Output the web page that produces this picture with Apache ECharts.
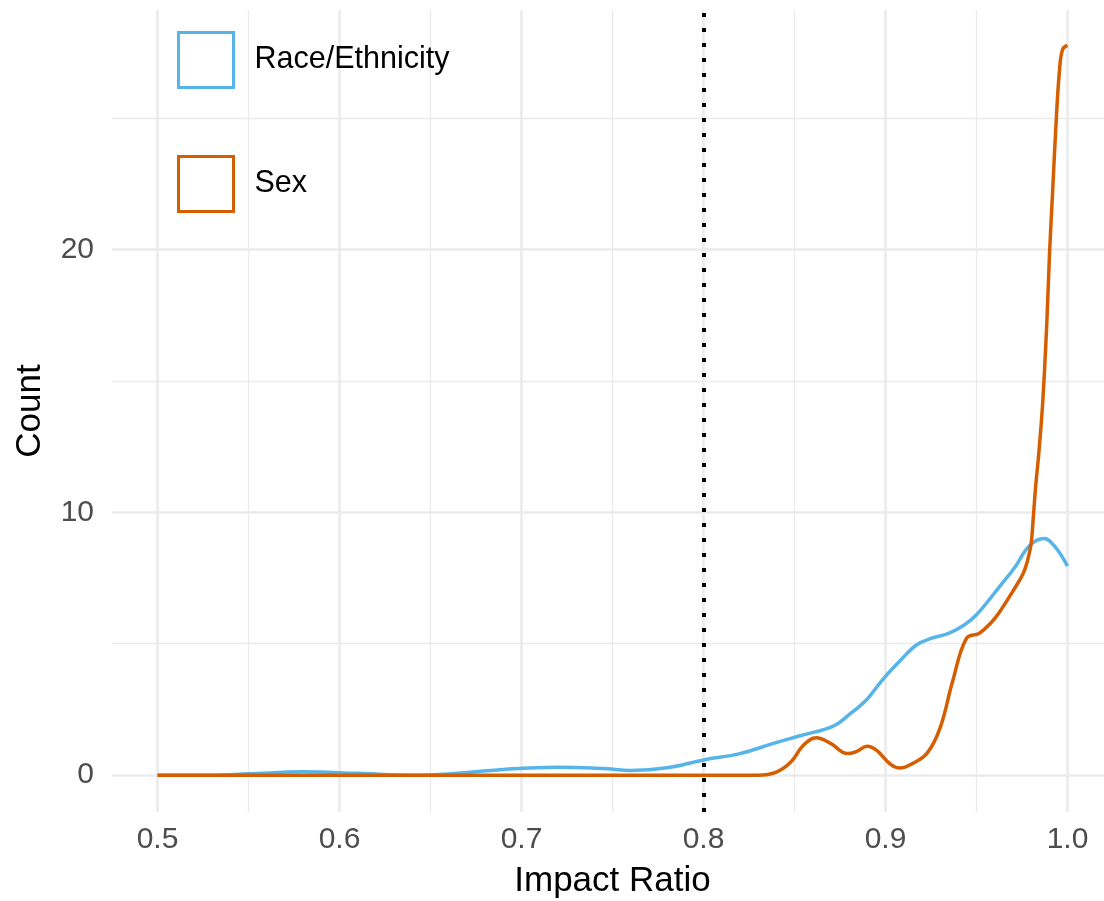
<!DOCTYPE html>
<html>
<head>
<meta charset="utf-8">
<script src="https://cdn.jsdelivr.net/npm/echarts@6/dist/echarts.min.js"></script>
<style>
  html, body { margin: 0; padding: 0; background: #ffffff; }
  #chart { width: 1104px; height: 901px; }
</style>
</head>
<body>
<div id="chart"></div>
<script>
// ---- data ----
const seriesNames = ['Race/Ethnicity', 'Sex'];

const raceX = [0.50, 0.53, 0.55, 0.58, 0.61, 0.64, 0.66, 0.69, 0.72, 0.745, 0.76, 0.78, 0.80, 0.82, 0.838, 0.853, 0.871, 0.880, 0.890, 0.898, 0.908, 0.917, 0.925, 0.935, 0.943, 0.950, 0.963, 0.971, 0.979, 0.987, 0.993, 1.0];
const raceY = [0.0, 0.0, 0.05, 0.13, 0.07, 0.0, 0.05, 0.22, 0.30, 0.25, 0.18, 0.28, 0.58, 0.82, 1.2, 1.5, 1.86, 2.3, 2.9, 3.6, 4.35, 4.95, 5.2, 5.4, 5.7, 6.1, 7.2, 7.9, 8.72, 9.0, 8.7, 7.95];

const sexX = [0.50, 0.60, 0.70, 0.80, 0.83, 0.84, 0.848, 0.855, 0.862, 0.870, 0.879, 0.884, 0.890, 0.895, 0.903, 0.908, 0.915, 0.923, 0.930, 0.937, 0.9445, 0.9516, 0.958, 0.9626, 0.970, 0.9755, 0.978, 0.980, 0.981, 0.9824, 0.9843, 0.9864, 0.9887, 0.9901, 0.9919, 0.9938, 0.9956, 0.9973, 1.0];
const sexY = [0.0, 0.0, 0.0, 0.0, 0.0, 0.12, 0.5, 1.15, 1.42, 1.2, 0.82, 0.9, 1.1, 0.95, 0.4, 0.27, 0.45, 0.85, 1.8, 3.6, 5.2, 5.4, 5.8, 6.2, 7.0, 7.65, 8.15, 8.8, 9.6, 10.9, 12.3, 14.2, 17.3, 19.8, 22.3, 24.9, 26.8, 27.6, 27.75];

const cutoff = [0.8];

const xMajorTicks = [0.5, 0.6, 0.7, 0.8, 0.9, 1.0];
const xTickLabels = ['0.5', '0.6', '0.7', '0.8', '0.9', '1.0'];
const xMinorTicks = [0.55, 0.65, 0.75, 0.85, 0.95];
const yMajorTicks = [0, 10, 20];
const yTickLabels = ['0', '10', '20'];
const yMinorTicks = [5, 15, 25];

// ---- styling ----
const colors = ['#56B4E9', '#D55E00'];
const FONT = 'Liberation Sans, Arial, Helvetica, sans-serif';
const GRID_COLOR = '#ebebeb';

const X_MIN = 0.475, X_MAX = 1.025, X_STEP = 0.025;
const Y_MIN = -1.4, Y_MAX = 29.1, Y_STEP = 0.2;

function near(a, b) { return Math.abs(a - b) < 1e-6; }
function tickValues(min, max, step) {
  const out = [];
  const n = Math.round((max - min) / step);
  for (let i = 0; i <= n + 1; i++) out.push(min + i * step);
  return out;
}
function lineColors(min, max, step, marks, color) {
  return tickValues(min, max, step).map(v => marks.some(m => near(m, v)) ? color : 'rgba(0,0,0,0)');
}
function labelFor(values, labels) {
  return function (v) {
    const i = values.findIndex(t => near(t, v));
    return i >= 0 ? labels[i] : '';
  };
}
function zip(xs, ys) { return xs.map((x, i) => [x, ys[i]]); }

const chart = echarts.init(document.getElementById('chart'), null, { renderer: 'canvas' });

const option = {
  animation: false,
  backgroundColor: '#ffffff',
  textStyle: { fontFamily: FONT },
  grid: { left: 112, top: 10, width: 1001, height: 802, containLabel: false, outerBoundsMode: 'none' },
  legend: {
    orient: 'vertical',
    left: 177,
    top: 31,
    padding: 0,
    itemWidth: 55,
    itemHeight: 55,
    itemGap: 66,
    selectedMode: false,
    textStyle: { fontFamily: FONT, fontSize: 30.5, color: '#000000', padding: [2, 0, 0, 16] },
    data: seriesNames.map((n, i) => ({
      name: n,
      icon: 'rect',
      itemStyle: { color: 'rgba(0,0,0,0)', borderColor: colors[i], borderWidth: 3 }
    }))
  },
  xAxis: [
    {
      type: 'value',
      min: X_MIN, max: X_MAX, interval: X_STEP,
      position: 'bottom',
      name: 'Impact Ratio',
      nameLocation: 'middle',
      nameGap: 52,
      nameTextStyle: { fontFamily: FONT, fontSize: 35, color: '#000000' },
      axisLine: { show: false },
      axisTick: { show: false },
      axisLabel: {
        fontFamily: FONT, fontSize: 30, color: '#4d4d4d', margin: 13,
        formatter: labelFor(xMajorTicks, xTickLabels)
      },
      splitLine: {
        show: true,
        lineStyle: { width: 2.6, color: lineColors(X_MIN, X_MAX, X_STEP, xMajorTicks, GRID_COLOR) }
      }
    },
    {
      type: 'value',
      min: X_MIN, max: X_MAX, interval: X_STEP,
      position: 'top',
      axisLine: { show: false },
      axisTick: { show: false },
      axisLabel: { show: false },
      splitLine: {
        show: true,
        lineStyle: { width: 1.3, color: lineColors(X_MIN, X_MAX, X_STEP, xMinorTicks, GRID_COLOR) }
      }
    }
  ],
  yAxis: [
    {
      type: 'value',
      min: Y_MIN, max: Y_MAX, interval: Y_STEP,
      position: 'left',
      name: 'Count',
      nameLocation: 'middle',
      nameGap: 64,
      nameRotate: 90,
      nameTextStyle: { fontFamily: FONT, fontSize: 35, color: '#000000' },
      axisLine: { show: false },
      axisTick: { show: false },
      axisLabel: {
        fontFamily: FONT, fontSize: 30, color: '#4d4d4d', margin: 18,
        formatter: labelFor(yMajorTicks, yTickLabels)
      },
      splitLine: {
        show: true,
        lineStyle: { width: 2.6, color: lineColors(Y_MIN, Y_MAX, Y_STEP, yMajorTicks, GRID_COLOR) }
      }
    },
    {
      type: 'value',
      min: Y_MIN, max: Y_MAX, interval: Y_STEP,
      position: 'right',
      axisLine: { show: false },
      axisTick: { show: false },
      axisLabel: { show: false },
      splitLine: {
        show: true,
        lineStyle: { width: 1.3, color: lineColors(Y_MIN, Y_MAX, Y_STEP, yMinorTicks, GRID_COLOR) }
      }
    }
  ],
  series: [
    {
      name: seriesNames[0],
      type: 'line',
      xAxisIndex: 0, yAxisIndex: 0,
      data: zip(raceX, raceY),
      smooth: 0.4,
      showSymbol: false,
      symbol: 'none',
      lineStyle: { color: colors[0], width: 3.5 },
      itemStyle: { color: colors[0] },
      z: 3
    },
    {
      name: seriesNames[1],
      type: 'line',
      xAxisIndex: 0, yAxisIndex: 0,
      data: zip(sexX, sexY),
      smooth: 0.4,
      showSymbol: false,
      symbol: 'none',
      lineStyle: { color: colors[1], width: 3.5 },
      itemStyle: { color: colors[1] },
      z: 4,
      markLine: {
        silent: true,
        symbol: ['none', 'none'],
        label: { show: false },
        lineStyle: { color: '#000000', width: 4, type: [4, 11], cap: 'butt' },
        data: cutoff.map(c => ({ xAxis: c }))
      }
    }
  ]
};

chart.setOption(option);
</script>
</body>
</html>
